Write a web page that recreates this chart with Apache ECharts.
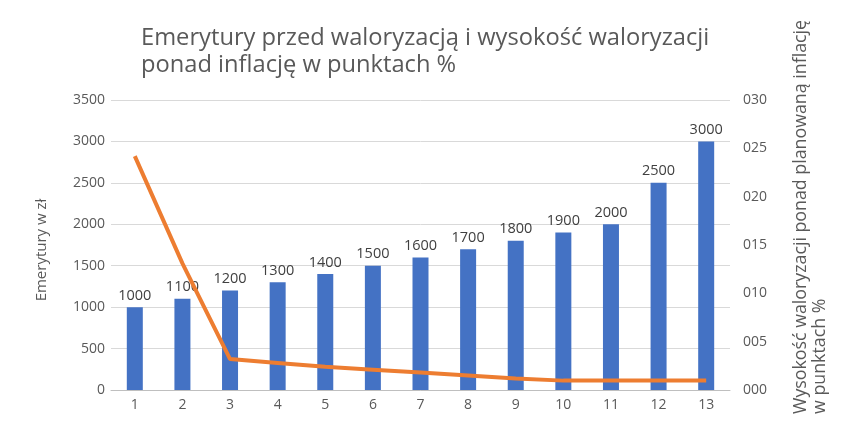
<!DOCTYPE html>
<html><head><meta charset="utf-8">
<script src="https://cdn.jsdelivr.net/npm/echarts@6/dist/echarts.min.js"></script>
<style>html,body{margin:0;padding:0;background:#fff}#c{width:852px;height:425px}</style>
</head><body><div id="c"></div>
<script>
var categories = ['1','2','3','4','5','6','7','8','9','10','11','12','13'];
var pensions = [1000,1100,1200,1300,1400,1500,1600,1700,1800,1900,2000,2500,3000];
var indexation = [0.242,0.131,0.032,0.028,0.024,0.021,0.018,0.015,0.012,0.0097,0.0097,0.0097,0.0097];
var rightTickLabels = ['000','005','010','015','020','025','030'];
var titleText = 'Emerytury przed waloryzacją i wysokość waloryzacji\nponad inflację w punktach %';
var leftAxisName = 'Emerytury w zł';
var rightAxisName = 'Wysokość waloryzacji ponad planowaną inflację\nw punktach %';

var FONT = '"Open Sans", sans-serif';
var GREY = '#595959';
var chart = echarts.init(document.getElementById('c'));
chart.setOption({
  animation: false,
  textStyle: { fontFamily: FONT },
  title: {
    text: titleText, left: 136, top: 20,
    textStyle: { fontFamily: FONT, fontSize: 23.7, fontWeight: 'normal', color: GREY, lineHeight: 27 }
  },
  grid: { left: 111, right: 122, top: 100, bottom: 35 },
  xAxis: {
    type: 'category', data: categories,
    axisTick: { show: false },
    axisLine: { lineStyle: { color: '#bfbfbf' } },
    axisLabel: { color: GREY, fontSize: 14, margin: 8 }
  },
  yAxis: [{
    type: 'value', min: 0, max: 3500, interval: 500,
    axisLine: { show: false }, axisTick: { show: false },
    axisLabel: { color: GREY, fontSize: 14, margin: 6, formatter: function (v) { return String(v); } },
    splitLine: { lineStyle: { color: '#d9d9d9' } }
  }, {
    type: 'value', min: 0, max: 0.30, interval: 0.05,
    axisLine: { show: false }, axisTick: { show: false },
    axisLabel: { color: GREY, fontSize: 14, margin: 13,
      formatter: function (v) { return rightTickLabels[Math.round(v / 0.05)]; } },
    splitLine: { show: false }
  }],
  graphic: [{
    type: 'text', rotation: Math.PI / 2, x: 42, y: 250,
    style: { text: leftAxisName, font: '15px "Open Sans", sans-serif', fill: GREY, textAlign: 'center', textVerticalAlign: 'middle' }
  }, {
    type: 'text', rotation: Math.PI / 2, x: 791, y: 414,
    style: { text: rightAxisName, font: '17.8px "Open Sans", sans-serif', fill: GREY, textAlign: 'left', textVerticalAlign: 'top', lineHeight: 19 }
  }],
  series: [{
    type: 'bar', data: pensions, barWidth: 16, yAxisIndex: 0,
    itemStyle: { color: '#4472C4' },
    label: { show: true, position: 'top', color: '#404040', fontSize: 14.5, distance: 4 }
  }, {
    type: 'line', data: indexation, yAxisIndex: 1,
    symbol: 'none', lineStyle: { color: '#ED7D31', width: 4 }
  }]
});
</script></body></html>
